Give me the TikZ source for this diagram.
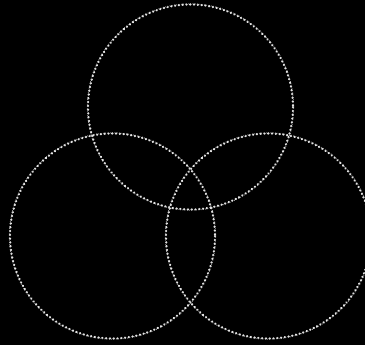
\documentclass[tikz,border=0pt]{standalone}
\begin{document}
\begin{tikzpicture}[x=1pt,y=-1pt,
  ring/.style={draw=white!90!black, line width=2.2pt, line cap=round, dash pattern=on 0.4pt off 3.4pt},
  ringfine/.style={draw=white!70!black, line width=1pt, line cap=round, dash pattern=on 0.01pt off 2.3pt, dash phase=1pt}]
\fill[black] (0,0) rectangle (365,345);
\useasboundingbox (0,0) rectangle (365,345);
\coordinate (ctop) at (190.5,107);
\coordinate (cleft) at (112.5,236);
\coordinate (cright) at (268.5,236);
\foreach \c in {ctop,cleft,cright}{
  \draw[ring] (\c) circle[radius=102.5];
  \draw[ringfine] (\c) circle[radius=103.2];
}
\end{tikzpicture}
\end{document}
